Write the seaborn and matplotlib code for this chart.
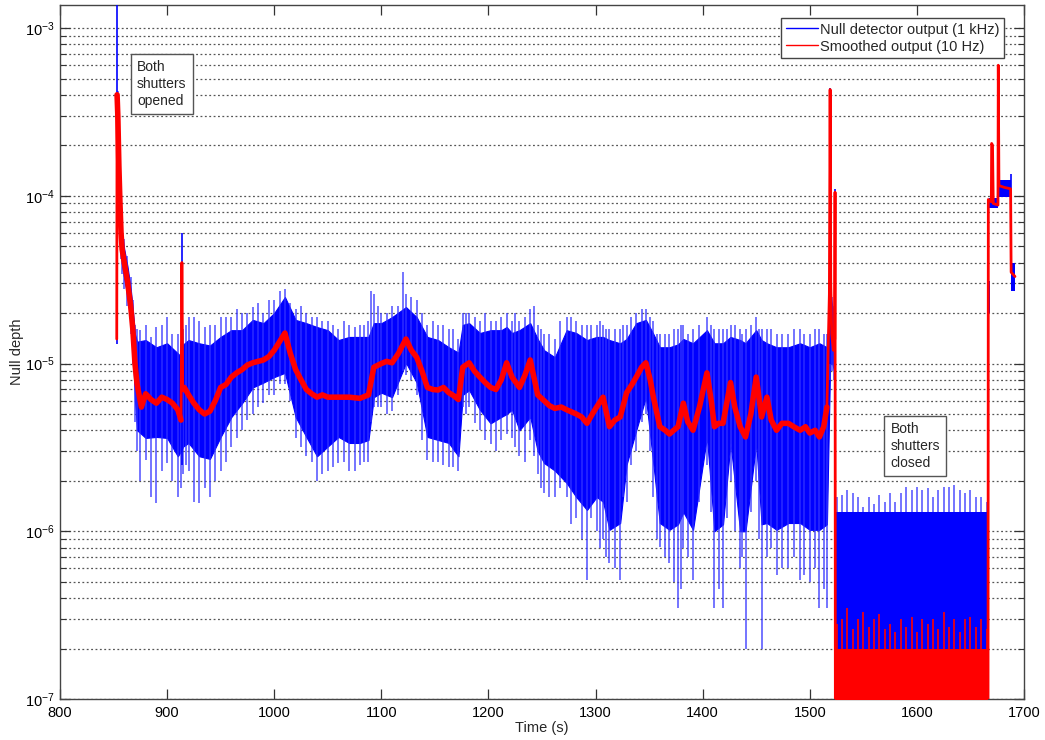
import numpy as np
import matplotlib
matplotlib.use("Agg")
import matplotlib.pyplot as plt
import seaborn as sns
from matplotlib.lines import Line2D
from matplotlib.ticker import LogLocator, LogFormatterSciNotation, NullFormatter, MultipleLocator

# ---------------- data (null depth values in units of 1e-6) ----------------
UNIT = 1e-6

# dense 1 kHz detector signal: core band and spike extremes
band_t = [854, 855, 856, 857, 858, 860, 863, 866, 868, 870, 872, 880, 890, 900, 910, 913, 915,
          920, 930, 940, 950, 960, 970, 980, 990, 1000, 1010, 1020, 1030, 1040, 1050, 1060,
          1070, 1080, 1088, 1093, 1100, 1110, 1123, 1133, 1143, 1153, 1163, 1172, 1176, 1182,
          1192, 1202, 1212, 1217, 1222, 1229, 1239, 1246, 1252, 1262, 1273, 1282, 1292, 1301,
          1307, 1313, 1323, 1329, 1338, 1347, 1354, 1360, 1369, 1377, 1382, 1391, 1404, 1411,
          1419, 1426, 1435, 1440, 1450, 1455, 1460, 1469, 1480, 1491, 1500, 1509, 1516, 1519,
          1521, 1522.8]
band_hi = [380, 190, 115, 75, 58, 48, 38, 28, 21, 15, 13.5, 13.8, 12.5, 13.2, 11.5, 11, 13,
           13.8, 13.2, 12.8, 14.4, 15.8, 15.8, 18.2, 17.4, 20, 24.9, 18.2, 17.4, 16.5, 15.8, 13.8,
           14.4, 14.4, 14.4, 17.4, 17.4, 18.9, 21.7, 18.9, 14.4, 13.8, 12.5, 11.6, 17, 17.4,
           15.2, 15.8, 15.8, 16.5, 15.2, 15.8, 17.4, 14, 12, 10.9, 15.8, 15.2, 13.8, 14.4,
           14.4, 13.8, 13.2, 14, 17.4, 18.2, 15, 12.5, 12.5, 13, 14, 13.2, 15.8, 13.2,
           13.2, 14.4, 13.8, 13.2, 15.8, 13.8, 13.2, 12.5, 12.5, 13.2, 12.5, 13.2, 12.5, 26,
           22, 20]
band_lo = [220, 115, 70, 48, 38, 32, 25, 18, 12, 6, 4.0, 3.6, 3.65, 3.6, 2.8, 3, 3.2,
           3.36, 2.8, 2.7, 3.65, 4.8, 5.8, 7.2, 7.7, 8.3, 8.8, 4.8, 3.65, 2.8, 3.2, 3.65,
           3.36, 3.36, 3.5, 6.3, 6.7, 6.3, 10.1, 7.7, 3.65, 3.5, 3.36, 2.8, 6.5, 6.95,
           5.3, 4.4, 4.8, 5.0, 5.3, 4.0, 4.8, 3.0, 2.55, 2.3, 1.94, 1.6, 1.34, 1.6,
           1.5, 1.02, 1.12, 2.5, 4.0, 6.3, 2.5, 1.12, 1.02, 1.1, 1.3, 1.02, 3.65, 1.0,
           1.1, 3.36, 1.0, 1.0, 3.36, 1.1, 1.12, 1.02, 1.12, 1.12, 1.02, 1.02, 1.1, 10,
           10, 9]
spike_hi = [420, 220, 135, 85, 65, 55, 44, 33, 24, 17, 16, 17, 16.5, 18.9, 15, 13, 16,
            19, 18, 17, 19, 19, 20, 21.7, 20, 24, 28, 21, 20, 19, 18, 16,
            17, 17, 18, 26, 20, 22, 26, 24, 17, 17, 16, 14, 20, 20,
            18, 18, 19, 20, 18, 18, 21, 17, 15, 14, 19, 18, 17, 17,
            17, 16, 16, 17, 20, 21, 18, 15, 15, 16, 17, 16, 19, 16,
            16, 17, 16, 16, 19, 16, 16, 15, 15, 16, 15, 16, 15, 28,
            25, 22]
spike_lo = [180, 100, 60, 42, 34, 28, 22, 15, 10, 4.5, 3.0, 2.66, 1.47, 2.55, 1.6, 1.8, 2.2,
            2.3, 1.47, 1.6, 2.3, 3.2, 4.0, 5.0, 5.8, 6.5, 7.5, 3.6, 2.8, 2.0, 2.3, 2.55,
            2.3, 2.5, 2.6, 5.5, 5.5, 5.2, 8.5, 6.5, 2.66, 2.6, 2.4, 2.3, 5.5, 5.5,
            4.0, 3.3, 3.5, 3.8, 3.6, 2.8, 3.5, 2.2, 1.7, 1.6, 1.6, 1.2, 0.51, 1.0,
            0.9, 0.65, 0.51, 1.5, 3.0, 5.0, 1.6, 0.81, 0.65, 0.35, 0.8, 0.51, 2.5, 0.35,
            0.35, 2.0, 0.6, 0.2, 2.0, 0.2, 0.7, 0.55, 0.6, 0.51, 0.5, 0.35, 0.35, 8,
            9, 8]

# extra spike extremes read between the band rows
fringe_t = [875, 885, 895, 905, 918, 925, 935, 945, 955, 965, 975, 985, 995, 1005, 1015,
            1025, 1035, 1045, 1055, 1065, 1075, 1084, 1090, 1097, 1105, 1116, 1120, 1128,
            1138, 1148, 1158, 1167, 1179, 1187, 1197, 1207, 1225, 1234, 1243, 1249, 1257,
            1267, 1277, 1287, 1296, 1304, 1310, 1318, 1326, 1333, 1343, 1351, 1357, 1365,
            1373, 1380, 1386, 1397, 1408, 1415, 1423, 1430, 1437, 1445, 1453, 1464, 1474,
            1485, 1495, 1505, 1513]
fringe_hi = [15.8, 14.4, 17, 15, 17, 19, 16.5, 17, 19, 21, 20, 23, 24, 27, 23,
             22, 19, 18, 17, 18, 16.5, 17, 27, 22, 20, 22, 35, 25,
             20, 18, 17, 16, 20, 19, 20, 18, 20, 19, 22, 16, 15,
             18, 19, 17, 17, 18, 16, 16, 17, 19, 21, 19, 15, 15,
             16, 17, 15, 17, 17, 16, 16, 17, 15, 17, 16, 16, 15,
             16, 15, 16, 15]
fringe_lo = [2.0, 1.6, 2.3, 2.0, 2.5, 1.5, 1.8, 2.0, 2.6, 3.6, 4.6, 5.5, 6.5, 7.5, 6.0,
             3.2, 2.6, 2.2, 2.4, 2.6, 2.3, 2.6, 4.5, 5.5, 5.0, 6.5, 9, 8,
             3.5, 2.6, 2.5, 2.4, 5.0, 4.4, 3.5, 3.0, 3.2, 2.6, 2.8, 1.8, 1.6,
             1.8, 1.1, 0.9, 1.2, 0.8, 0.7, 0.6, 1.6, 2.5, 4.5, 3.0, 0.9, 0.7,
             0.5, 0.45, 0.7, 1.5, 1.3, 0.45, 1.2, 1.0, 0.7, 1.3, 0.9, 0.8, 0.6,
             0.7, 0.55, 0.6, 0.45]

# isolated tall excursions of the detector signal
event_t = [853.2, 914.0, 1519.0, 1523.5, 1669.8, 1676.0, 1687.9]
event_lo = [13, 2.5, 10, 85, 160, 90, 100]
event_hi = [1400, 60, 440, 110, 205, 600, 134]

# shutters closed interval
closed_t = [1523.6, 1525, 1530, 1535, 1540, 1545, 1550, 1555, 1560, 1565, 1570, 1575, 1580,
            1585, 1590, 1595, 1600, 1605, 1610, 1615, 1620, 1625, 1630, 1635, 1640, 1645,
            1650, 1655, 1660, 1665, 1666.3]
closed_blue_lo = 0.2
closed_blue_hi = 1.3
closed_blue_spk = [1.3, 1.6, 1.65, 1.75, 1.7, 1.6, 1.4, 1.6, 1.45, 1.65, 1.5, 1.7, 1.5,
                   1.7, 1.84, 1.75, 1.84, 1.76, 1.8, 1.6, 1.76, 1.84, 1.84, 1.88, 1.76, 1.7,
                   1.76, 1.6, 1.6, 1.5, 1.3]
closed_red_floor = 0.05
closed_red_hi = 0.2
closed_red_spk = [0.2, 0.28, 0.3, 0.35, 0.26, 0.3, 0.33, 0.27, 0.3, 0.32, 0.26, 0.28, 0.25,
                  0.3, 0.27, 0.31, 0.25, 0.3, 0.28, 0.3, 0.26, 0.33, 0.27, 0.3, 0.25, 0.3,
                  0.31, 0.27, 0.3, 0.26, 0.2]

# after re-opening: short clumps of the detector signal
clump_t0 = [1666.5, 1667.6, 1676.6, 1688.0]
clump_t1 = [1668.5, 1675.8, 1687.6, 1691.6]
clump_lo = [20, 85, 98, 27]
clump_hi = [31, 97, 125, 40]

# smoothed 10 Hz output
red_t = [853.0, 853.3, 854, 855, 856, 857, 858, 860, 863, 866, 868, 870, 872, 876, 880, 885,
         890, 895, 900, 905, 910, 913, 913.8, 914.6, 916, 920, 925, 930, 935, 940, 945, 950,
         955, 960, 965, 970, 975, 980, 985, 990, 995, 1000, 1005, 1010, 1015, 1020, 1025,
         1030, 1035, 1040, 1045, 1050, 1060, 1070, 1080, 1088, 1093, 1100, 1105, 1110, 1116,
         1123, 1128, 1133, 1138, 1143, 1148, 1153, 1158, 1163, 1168, 1172, 1176, 1182, 1187,
         1192, 1197, 1202, 1207, 1212, 1217, 1222, 1229, 1234, 1239, 1243, 1246, 1252, 1257,
         1262, 1268, 1273, 1282, 1287, 1292, 1297, 1301, 1307, 1313, 1318, 1323, 1329, 1334,
         1338, 1343, 1347, 1351, 1354, 1360, 1365, 1369, 1373, 1377, 1382, 1386, 1391, 1397,
         1404, 1408, 1411, 1415, 1419, 1426, 1430, 1435, 1440, 1445, 1450, 1455, 1460, 1464,
         1469, 1474, 1480, 1485, 1491, 1496, 1500, 1505, 1509, 1513, 1516, 1518.3, 1519,
         1519.6, 1520.5, 1522, 1523.3, 1523.6, 1523.9, 1666.4, 1666.7, 1669.5, 1669.8, 1670.6,
         1671.3, 1675.7, 1676.0, 1676.6, 1682, 1687.5, 1688, 1691.6]
red_v = [14, 400, 300, 150, 90, 60, 48, 40, 31, 22, 16, 10, 7.5, 5.5, 6.6, 6.1,
         5.8, 6.3, 6.1, 5.8, 5.3, 4.6, 40, 7, 7.2, 6.5, 5.8, 5.3, 5.0, 5.2, 6.0, 7.2,
         7.5, 8.3, 8.8, 9.2, 9.8, 10.1, 10.3, 10.5, 11, 12, 13.5, 15.2, 11.5, 9.2, 8,
         7, 6.6, 6.3, 6.5, 6.3, 6.3, 6.3, 6.2, 6.5, 9.5, 10, 10.3, 10.1, 11.5,
         14, 12, 10.9, 9, 7.2, 7, 6.95, 7.2, 6.7, 6.4, 6.1, 9.5, 10.1, 9,
         8.3, 7.7, 7.2, 7, 8, 10.1, 8.3, 7.2, 8.5, 10.5, 8, 6.5, 6.0, 5.6,
         5.4, 5.5, 5.3, 5.0, 4.8, 4.4, 5, 5.5, 6.3, 4.2, 4.6, 4.8, 6.7, 7.5,
         8.3, 9.5, 10.1, 8, 6.3, 4.2, 4.0, 3.8, 4.0, 4.2, 5.8, 4.5, 4.0, 5.5,
         8.8, 6, 4.2, 4.4, 4.4, 7.7, 5.5, 4.2, 3.65, 5, 8.3, 4.8, 6.3, 4.6,
         4.0, 4.4, 4.4, 4.2, 4.0, 4.2, 3.85, 4.0, 3.65, 4.2, 5.5, 26, 430,
         30, 15, 12, 14, 105, 0.05, 0.05, 95, 92, 205, 200,
         90, 88, 600, 115, 112, 110, 35, 33]
# spans over which the smoothed trace is noisy (drawn as a thick band)
noisy_spans = [(853.3, 913.0), (914.6, 1516)]

legend_labels = ["Null detector output (1 kHz)", "Smoothed output (10 Hz)"]
x_label = "Time (s)"
y_label = "Null depth"
note_open = "Both\nshutters\nopened"
note_closed = "Both\nshutters\nclosed"

# ---------------- style ----------------
BLUE = (0.0, 0.0, 1.0)
SPIKE_BLUE = (0.2, 0.2, 1.0)
RED = (1.0, 0.0, 0.0)

sns.set_style("ticks")
plt.rcParams["font.family"] = ["Liberation Sans", "DejaVu Sans"]
plt.rcParams["mathtext.fontset"] = "custom"
plt.rcParams["mathtext.rm"] = "Liberation Sans"
plt.rcParams["mathtext.it"] = "Liberation Sans:italic"
plt.rcParams["mathtext.bf"] = "Liberation Sans:bold"

fig = plt.figure(figsize=(10.45, 7.4), dpi=100)
ax = fig.add_axes([0.0574, 0.0554, 0.9225, 0.9378])
ax.set_yscale("log")

u = lambda a: np.asarray(a, dtype=float) * UNIT

# detector output: core band + spikes
ax.fill_between(band_t, u(band_lo), u(band_hi), color=BLUE, lw=0.8, edgecolor=BLUE, zorder=3)
ax.vlines(band_t, u(spike_lo), u(spike_hi), color=SPIKE_BLUE, lw=1.2, alpha=0.8, zorder=3)
ax.vlines(fringe_t, u(fringe_lo), u(fringe_hi), color=SPIKE_BLUE, lw=1.2, alpha=0.8, zorder=3)
ax.vlines(event_t, u(event_lo), u(event_hi), color=BLUE, lw=1.2, zorder=3)
for t0, t1, lo, hi in zip(clump_t0, clump_t1, clump_lo, clump_hi):
    ax.fill_between([t0, t1], [lo * UNIT] * 2, [hi * UNIT] * 2, color=BLUE, lw=0, zorder=3)

# closed shutters
ax.fill_between(closed_t, closed_blue_lo * UNIT, closed_blue_hi * UNIT, color=BLUE, lw=0, zorder=3)
ax.vlines(closed_t, closed_blue_hi * UNIT, u(closed_blue_spk), color=SPIKE_BLUE, lw=1.2,
          alpha=0.8, zorder=3)
ax.fill_between(closed_t, closed_red_floor * UNIT, closed_red_hi * UNIT, color=RED, lw=0, zorder=4)
ax.vlines(closed_t, closed_red_hi * UNIT, u(closed_red_spk), color=RED, lw=1.2, zorder=4)

# smoothed output: thin full trace + thick noisy parts
rt = np.asarray(red_t)
rv = u(red_v)
sns.lineplot(x=rt, y=rv, sort=False, estimator=None, color=RED, lw=2.0, ax=ax, zorder=5)
for a, b in noisy_spans:
    m = (rt >= a) & (rt <= b)
    sns.lineplot(x=rt[m], y=rv[m], sort=False, estimator=None, color=RED, lw=4.0, ax=ax, zorder=5)

# axes
ax.set_xlim(800, 1700)
ax.set_ylim(1e-7, 1.371e-3)
ax.xaxis.set_major_locator(MultipleLocator(100))
ax.yaxis.set_major_locator(LogLocator(base=10, numticks=20))
ax.yaxis.set_minor_locator(LogLocator(base=10, subs=np.arange(2, 10), numticks=40))
ax.yaxis.set_major_formatter(LogFormatterSciNotation())
ax.yaxis.set_minor_formatter(NullFormatter())
ax.yaxis.grid(True, which="both", color="#555555", lw=0.9, linestyle=(0, (1.5, 2.0)), zorder=1)
ax.xaxis.grid(False)
ax.set_axisbelow(True)
ax.tick_params(axis="both", which="both", direction="in", top=True, right=True,
               labelsize=10.5, colors="#333333", labelcolor="black")
ax.tick_params(axis="both", which="major", length=7, width=0.9)
ax.tick_params(axis="x", which="major", pad=5)
ax.tick_params(axis="y", which="minor", length=4, width=0.8)
ax.tick_params(axis="x", which="minor", length=0)
for s in ax.spines.values():
    s.set_color("#444444")
    s.set_linewidth(1.0)

ax.set_xlabel(x_label, fontsize=10.5, labelpad=1)
ax.set_ylabel(y_label, fontsize=10.5, labelpad=1)

# legend
handles = [Line2D([], [], color=BLUE, lw=1.0), Line2D([], [], color=RED, lw=1.0)]
leg = ax.legend(handles, legend_labels, loc="upper right", bbox_to_anchor=(0.979, 0.981),
                borderaxespad=0, fontsize=10.5, frameon=True, fancybox=False,
                edgecolor="#444444", framealpha=1, borderpad=0.3, labelspacing=0.2,
                handlelength=2.2, handletextpad=0.15)
leg.get_frame().set_linewidth(1.0)
leg.set_zorder(10)

# notes
box = dict(boxstyle="square,pad=0.45", facecolor="white", edgecolor="#555555", lw=1.0)
ax.text(0.0799, 0.9207, note_open, transform=ax.transAxes, ha="left", va="top",
        fontsize=10, linespacing=1.25, bbox=box, zorder=10)
ax.text(0.8617, 0.3991, note_closed, transform=ax.transAxes, ha="left", va="top",
        fontsize=10, linespacing=1.25, bbox=box, zorder=10)

fig.savefig("out.png", dpi=100, facecolor="white")
